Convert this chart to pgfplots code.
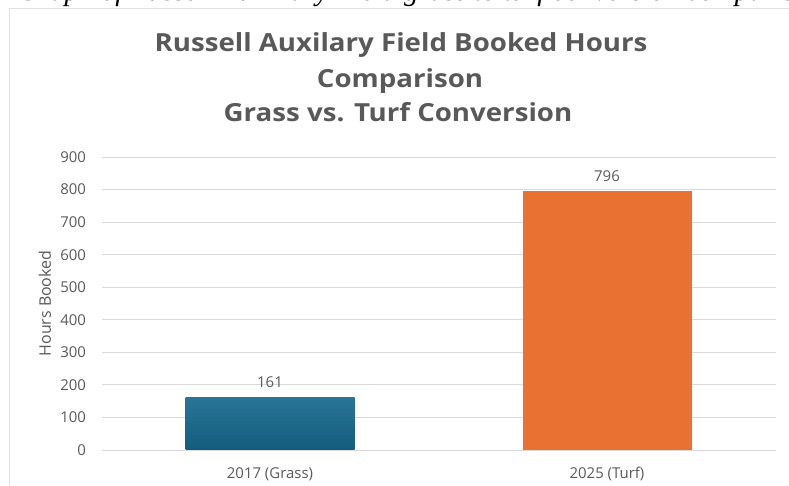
\documentclass[border=0pt]{standalone}
\usepackage{fontspec}
\setmainfont{Open Sans}
\newfontfamily\captionfont{Liberation Serif}
\newfontfamily\titlefont{Open Sans}[FakeStretch=1.11]
\usepackage{pgfplots}
\pgfplotsset{compat=1.18}

\definecolor{txtgrey}{HTML}{595959}
\definecolor{gridgrey}{HTML}{D9D9D9}
\definecolor{framegrey}{HTML}{E2E2E2}
\definecolor{grassblue}{HTML}{135C7E}
\definecolor{grasstop}{HTML}{2A7497}
\definecolor{turforange}{HTML}{E97132}

\begin{document}
\begin{tikzpicture}
\path[use as bounding box] (0bp,0bp) rectangle (789bp,486bp);
\begin{scope}
  \clip (0bp,0bp) rectangle (789bp,486bp);
  % document caption running above the chart
  \node[anchor=base west, inner sep=0pt,
        font=\captionfont\itshape\fontsize{29}{34}\selectfont]
        at (18bp,485bp) {Graph of Russell Auxiliary Field grass to turf conversion comparison};
  % chart area border
  \draw[framegrey, line width=0.8bp] (9bp,-10bp) -- (9bp,478bp) -- (800bp,478bp);
\end{scope}

% chart title
\node[anchor=base, inner sep=0pt, text=txtgrey, font=\titlefont\bfseries\fontsize{25}{28}\selectfont]
      at (401bp,434bp) {Russell Auxilary Field Booked Hours};
\node[anchor=base, inner sep=0pt, text=txtgrey, font=\titlefont\bfseries\fontsize{25}{28}\selectfont]
      at (400bp,398bp) {Comparison};
\node[anchor=base, inner sep=0pt, text=txtgrey, font=\titlefont\bfseries\fontsize{25}{28}\selectfont]
      at (398bp,364bp) {Grass vs. Turf Conversion};

\begin{axis}[
  at={(101.5bp,36bp)}, anchor=south west,
  scale only axis, width=674bp, height=293bp,
  ybar, bar width=169bp,
  xmin=-0.5, xmax=1.5, ymin=0, ymax=900,
  xtick={0,1}, xticklabels={2017 (Grass), 2025 (Turf)},
  ytick={0,100,...,900},
  ymajorgrids, grid style={gridgrey, line width=0.8bp},
  axis line style={draw=none},
  major tick length=0pt,
  tick label style={text=txtgrey, font=\fontsize{15}{18}\selectfont},
  /pgf/number format/assume math mode=true,
  yticklabel style={xshift=-12bp},
  xticklabel style={yshift=-14bp},
  ylabel={Hours Booked},
  ylabel style={at={(axis description cs:-0.084,0.5)}, anchor=center,
                text=txtgrey, font=\fontsize{16}{18}\selectfont},
  nodes near coords,
  nodes near coords style={text=txtgrey, font=\fontsize{15}{18}\selectfont, yshift=6bp},
  clip=false,
]
\addplot[bar shift=0pt, draw=none, top color=grasstop, bottom color=grassblue]
  coordinates {(0,161)};
\addplot[bar shift=0pt, draw=none, fill=turforange]
  coordinates {(1,796)};
\end{axis}
\end{tikzpicture}
\end{document}
